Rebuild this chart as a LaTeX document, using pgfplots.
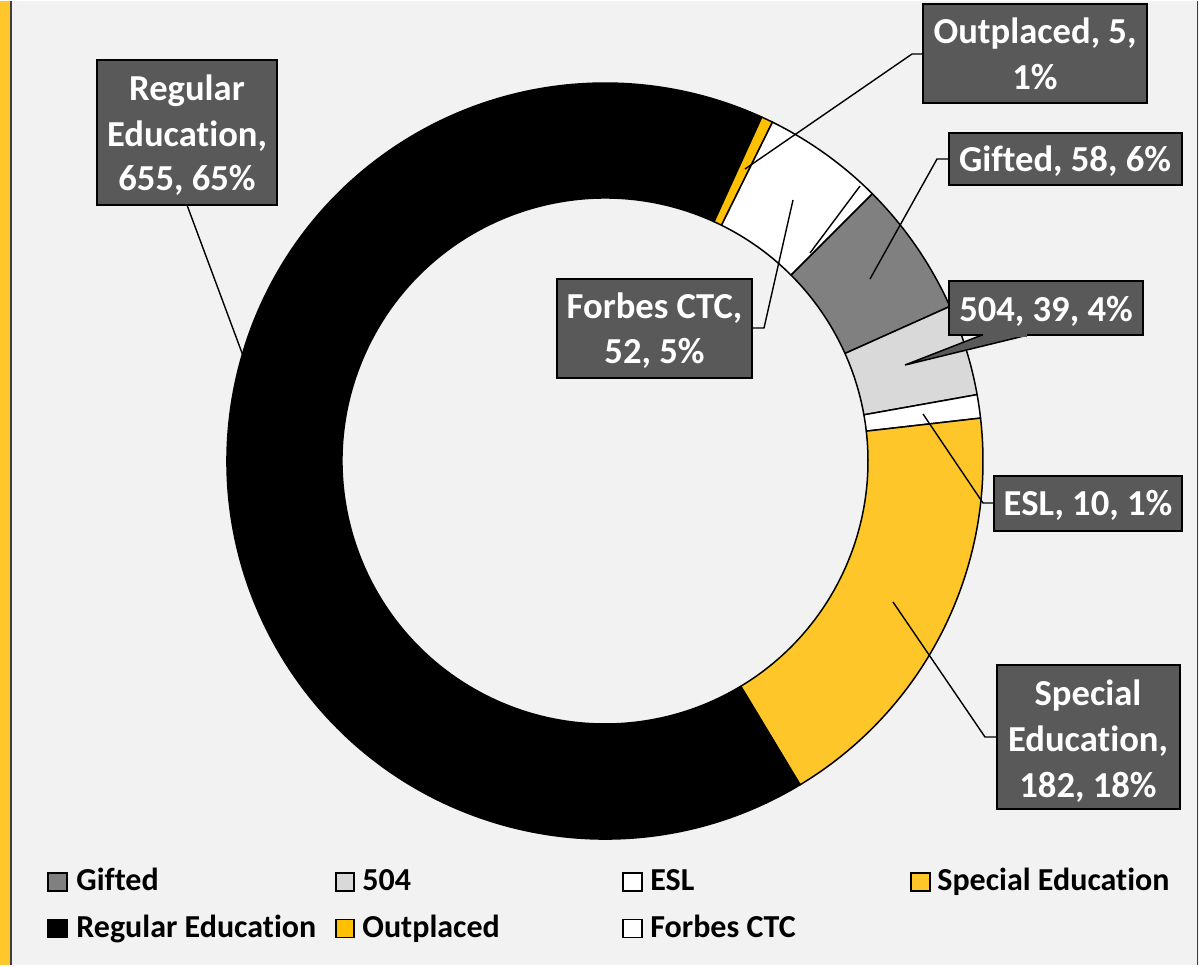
\documentclass[border=0pt]{standalone}
\usepackage{pgfplots}
\pgfplotsset{compat=1.18}
\usepackage{fontspec}
\setmainfont{Carlito}[Ligatures={NoCommon}]
\definecolor{bg}{HTML}{F2F2F2}
\definecolor{borderY}{HTML}{FFC72C}
\definecolor{borderG}{HTML}{404040}
\definecolor{cGifted}{HTML}{808080}
\definecolor{cFive}{HTML}{D9D9D9}
\definecolor{cESL}{HTML}{FFFFFF}
\definecolor{cSE}{HTML}{FFC629}
\definecolor{cReg}{HTML}{000000}
\definecolor{cOut}{HTML}{FFC000}
\definecolor{cForbes}{HTML}{FFFFFF}
\definecolor{boxc}{HTML}{595959}
\tikzset{
  lbl/.style={anchor=base,text=white,inner sep=0pt,font=\bfseries\fontsize{18.3}{22}\selectfont},
  lgd/.style={anchor=base west,text=black,inner sep=0pt,font=\bfseries\fontsize{16}{19}\selectfont},
  box/.style={fill=boxc,draw=black,line width=0.75pt},
  lead/.style={draw=black,line width=0.7pt},
  mk/.style={draw=black,line width=0.8pt}
}
\begin{document}
\begin{tikzpicture}
\begin{axis}[x=0.5pt,y=0.5pt,y dir=reverse,xmin=0,xmax=1199,ymin=0,ymax=964,hide axis,clip=false]
\fill[bg] (axis cs:0,0) rectangle (axis cs:1199,964);
\fill[borderY] (axis cs:0,0) rectangle (axis cs:9.5,964);
\draw[borderG,line width=1pt] (axis cs:10.5,0) -- (axis cs:10.5,964);
\draw[borderG,line width=0.75pt] (axis cs:1197.5,0) -- (axis cs:1197.5,964);
% donut slices: value/colour, clockwise from first slice angle 45 deg
\gdef\cum{0}
\foreach \v/\c in {58/cGifted,39/cFive,10/cESL,182/cSE,655/cReg,5/cOut,52/cForbes}{
  \pgfmathsetmacro\aA{45-\cum/1001*360}
  \pgfmathsetmacro\aB{45-(\cum+\v)/1001*360}
  \pgfmathsetmacro\aBi{\aB+180}
  \edef\temp{\noexpand\filldraw[fill=\c,draw=black,line width=0.75pt,line join=round] (axis cs:605,460) ++(\aA:189pt) arc[start angle=\aA,end angle=\aB,radius=189pt] -- ++(\aBi:57.5pt) arc[start angle=\aB,end angle=\aA,radius=131.5pt] -- cycle;}
  \temp
  \pgfmathparse{\cum+\v}\xdef\cum{\pgfmathresult}
}
% leader lines
\draw[lead] (axis cs:187,204) -- (axis cs:245,360);
\draw[lead] (axis cs:923,53) -- (axis cs:912,53) -- (axis cs:745,168);
\draw[lead] (axis cs:949,158) -- (axis cs:937,158) -- (axis cs:870,278);
\draw[lead] (axis cs:994,502) -- (axis cs:983,502) -- (axis cs:923,413);
\draw[lead] (axis cs:997,736) -- (axis cs:985,736) -- (axis cs:893,601);
\draw[lead] (axis cs:752,327) -- (axis cs:764,327) -- (axis cs:793,199);
\draw[lead] (axis cs:810,252) -- (axis cs:860,185);
% label boxes
\draw[box] (axis cs:97,59) rectangle (axis cs:277,204);
\draw[box] (axis cs:923,3) rectangle (axis cs:1147,102);
\draw[box] (axis cs:949,132) rectangle (axis cs:1182,184);
\draw[box] (axis cs:982,334) -- (axis cs:905,364) -- (axis cs:1028,334);
\draw[box] (axis cs:949,280) rectangle (axis cs:1143,334);
\fill[boxc] (axis cs:983,333) rectangle (axis cs:1027,335.5);
\draw[box] (axis cs:994,475) rectangle (axis cs:1182,530);
\draw[box] (axis cs:997,664) rectangle (axis cs:1180,808);
\draw[box] (axis cs:557,278) rectangle (axis cs:752,377);
% label texts
\node[lbl] at (axis cs:187,99) {Regular};
\node[lbl] at (axis cs:187,145) {Education,};
\node[lbl] at (axis cs:187,189) {655, 65\%};
\node[lbl] at (axis cs:1035,42) {Outplaced, 5,};
\node[lbl] at (axis cs:1035,88) {1\%};
\node[lbl] at (axis cs:1065,170) {Gifted, 58, 6\%};
\node[lbl] at (axis cs:1046,320) {504, 39, 4\%};
\node[lbl] at (axis cs:1088,514) {ESL, 10, 1\%};
\node[lbl] at (axis cs:1088,704) {Special};
\node[lbl] at (axis cs:1088,750) {Education,};
\node[lbl] at (axis cs:1088,796) {182, 18\%};
\node[lbl] at (axis cs:654.5,317) {Forbes CTC,};
\node[lbl] at (axis cs:654.5,362) {52, 5\%};
% legend
\draw[mk,fill=cGifted] (axis cs:48,872) rectangle (axis cs:67,890);
\node[lgd] at (axis cs:76,889.5) {Gifted};
\draw[mk,fill=cFive] (axis cs:336,872) rectangle (axis cs:354,890);
\node[lgd] at (axis cs:362,889.5) {504};
\draw[mk,fill=cESL] (axis cs:623,872) rectangle (axis cs:642,890);
\node[lgd] at (axis cs:650,889.5) {ESL};
\draw[mk,fill=cSE] (axis cs:911,872) rectangle (axis cs:930,890);
\node[lgd] at (axis cs:937,889.5) {Special Education};
\draw[mk,fill=cReg] (axis cs:48,918.5) rectangle (axis cs:67,936.5);
\node[lgd] at (axis cs:76,936) {Regular Education};
\draw[mk,fill=cOut] (axis cs:336,918.5) rectangle (axis cs:354,936.5);
\node[lgd] at (axis cs:362,936) {Outplaced};
\draw[mk,fill=cForbes] (axis cs:623,918.5) rectangle (axis cs:642,936.5);
\node[lgd] at (axis cs:650,936) {Forbes CTC};
\end{axis}
\end{tikzpicture}
\end{document}
